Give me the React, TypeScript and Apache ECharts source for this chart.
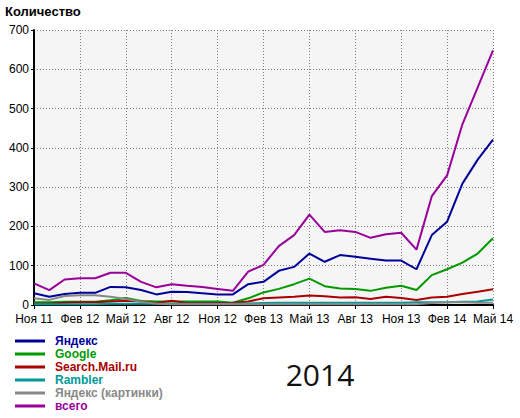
import React, { useEffect, useRef } from "react";
import * as echarts from "echarts";

const categories = [
  "Ноя 11", "Дек 11", "Янв 12", "Фев 12", "Мар 12", "Апр 12", "Май 12", "Июн 12", "Июл 12", "Авг 12",
  "Сен 12", "Окт 12", "Ноя 12", "Дек 12", "Янв 13", "Фев 13", "Мар 13", "Апр 13", "Май 13", "Июн 13",
  "Июл 13", "Авг 13", "Сен 13", "Окт 13", "Ноя 13", "Дек 13", "Янв 14", "Фев 14", "Мар 14", "Апр 14", "Май 14",
];

const yandex = [30, 21, 28, 31, 31, 46, 45, 38, 27, 34, 33, 30, 27, 27, 53, 59, 87, 97, 131, 110, 127, 123, 118, 113, 113, 91, 178, 212, 309, 370, 421];
const google = [7, 7, 8, 8, 8, 12, 18, 10, 9, 9, 9, 9, 9, 6, 17, 32, 41, 53, 67, 48, 42, 41, 36, 44, 49, 38, 76, 91, 108, 131, 170];
const mailRu = [3, 3, 6, 7, 7, 9, 11, 9, 5, 11, 5, 5, 5, 6, 9, 17, 19, 21, 24, 22, 19, 20, 15, 21, 18, 13, 19, 21, 28, 34, 40];
const rambler = [2, 2, 2, 2, 2, 3, 3, 3, 3, 3, 3, 3, 3, 3, 4, 5, 6, 6, 6, 6, 6, 6, 6, 6, 6, 7, 7, 7, 8, 9, 14];
const yandexImages = [17, 13, 23, 25, 25, 21, 15, 8, 3, 2, 2, 2, 2, 2, 2, 2, 2, 2, 2, 2, 2, 2, 2, 2, 2, 2, 5, 7, 7, 6, 6];
const total = [55, 38, 65, 68, 68, 82, 82, 59, 45, 53, 49, 46, 41, 36, 85, 102, 150, 178, 230, 186, 190, 186, 171, 180, 184, 141, 277, 330, 460, 554, 648];

const seriesNames = ["Яндекс", "Google", "Search.Mail.ru", "Rambler", "Яндекс (картинки)", "всего"];
const seriesColors = ["#000099", "#009900", "#aa0000", "#009999", "#888888", "#990099"];
const seriesData = [yandex, google, mailRu, rambler, yandexImages, total];

const yTitle = "Количество";
const yearLabel = "2014";

const FONT = "'Liberation Sans', Arial, sans-serif";

export default function App() {
  const ref = useRef<HTMLDivElement>(null);

  useEffect(() => {
    if (!ref.current) return;
    const chart = echarts.init(ref.current, undefined, { renderer: "svg" });

    const legendElements: any[] = [];
    seriesNames.forEach((name, i) => {
      const y = 341 + 13 * i;
      legendElements.push({
        type: "line",
        shape: { x1: 15, y1: y, x2: 45, y2: y },
        style: { stroke: seriesColors[i], lineWidth: 3 },
      });
      legendElements.push({
        type: "text",
        x: 55,
        y: y,
        style: {
          text: name,
          fill: seriesColors[i],
          font: `bold 12px ${FONT}`,
          verticalAlign: "middle",
          align: "left",
        },
      });
    });

    chart.setOption({
      animation: false,
      title: {
        text: yTitle,
        left: 5,
        top: 5,
        padding: 0,
        textStyle: { fontSize: 13, fontWeight: "bold", color: "#000", fontFamily: FONT },
      },
      grid: {
        left: 34,
        right: 27,
        top: 30,
        bottom: 113,
        show: true,
        backgroundColor: "#f5f5f5",
        borderWidth: 0,
      },
      xAxis: {
        type: "category",
        data: categories,
        boundaryGap: false,
        axisLine: { show: true, lineStyle: { color: "#000", width: 2 } },
        axisTick: { show: true, interval: 2, length: 4, lineStyle: { color: "#000" } },
        axisLabel: { interval: 2, margin: 8, fontSize: 12, color: "#000", fontFamily: FONT },
        splitLine: { show: true, interval: 2, lineStyle: { color: "#808080", type: [1, 2], width: 1 } },
      },
      yAxis: {
        type: "value",
        min: 0,
        max: 700,
        interval: 100,
        axisLine: { show: true, lineStyle: { color: "#000", width: 2 } },
        axisTick: { show: true, length: 3, lineStyle: { color: "#000" } },
        axisLabel: { margin: 5, fontSize: 12, color: "#000", fontFamily: FONT },
        splitLine: { show: true, lineStyle: { color: "#808080", type: [1, 2], width: 1 } },
      },
      series: seriesNames.map((name, i) => ({
        name,
        type: "line",
        data: seriesData[i],
        symbol: "none",
        lineStyle: { color: seriesColors[i], width: 2 },
        itemStyle: { color: seriesColors[i] },
      })),
      graphic: [
        ...legendElements,
        {
          type: "text",
          x: 320,
          y: 374,
          style: {
            text: yearLabel,
            fill: "#111",
            font: "30px 'Open Sans', sans-serif",
            align: "center",
            verticalAlign: "middle",
          },
        },
      ],
    });

    return () => chart.dispose();
  }, []);

  return (
    <div
      ref={ref}
      style={{ position: "fixed", left: 0, top: 0, width: 520, height: 418, background: "#fff" }}
    />
  );
}
